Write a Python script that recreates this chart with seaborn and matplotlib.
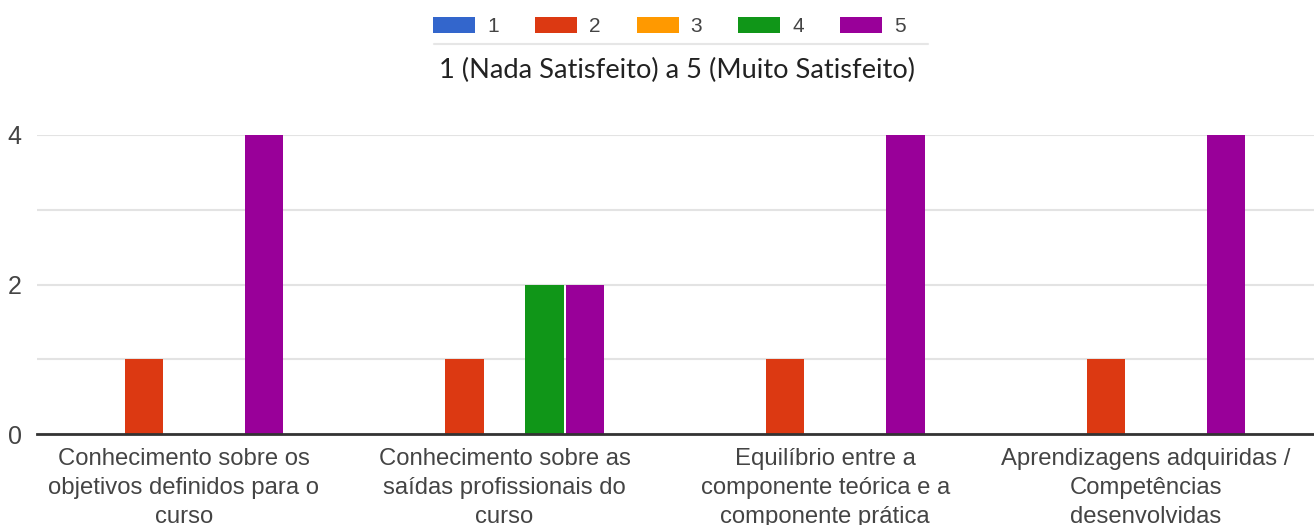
import pandas as pd
import seaborn as sns
import matplotlib.pyplot as plt
from matplotlib.lines import Line2D

# Data
categories = [
    "Conhecimento sobre os\nobjetivos definidos para o\ncurso",
    "Conhecimento sobre as\nsaídas profissionais do\ncurso",
    "Equilíbrio entre a\ncomponente teórica e a\ncomponente prática",
    "Aprendizagens adquiridas /\nCompetências\ndesenvolvidas",
]
ratings = ["1", "2", "3", "4", "5"]
r1 = [0, 0, 0, 0]
r2 = [1, 1, 1, 1]
r3 = [0, 0, 0, 0]
r4 = [0, 2, 0, 0]
r5 = [4, 2, 4, 4]
colors = ["#3366cc", "#dc3912", "#ff9900", "#109618", "#990099"]
subtitle = "1 (Nada Satisfeito) a 5 (Muito Satisfeito)"

# long format for seaborn
rows = []
for rating, vals in zip(ratings, [r1, r2, r3, r4, r5]):
    for cat, v in zip(categories, vals):
        rows.append({"categoria": cat, "nota": rating, "contagem": v})
df = pd.DataFrame(rows)

sns.set_style("white")
plt.rcParams['font.family'] = ['Liberation Sans', 'DejaVu Sans']

fig = plt.figure(figsize=(13.14, 5.25), dpi=100)
ax = fig.add_axes([37 / 1314, 1 - 434 / 525, 1 - 37 / 1314, (434 - 135) / 525])

sns.barplot(data=df, x="categoria", y="contagem", hue="nota", order=categories,
            hue_order=ratings, palette=colors, width=0.625, gap=0.04,
            saturation=1, edgecolor=None, linewidth=0, ax=ax)

# legend moved to the top of the figure
handles, labels = ax.get_legend_handles_labels()
ax.get_legend().remove()
fig.legend(handles, labels, loc='upper center', bbox_to_anchor=(0.5095, 1.003), ncol=5,
           frameon=False, fontsize=15, handlelength=2.02, handleheight=0.77,
           handletextpad=0.58, columnspacing=1.73, labelcolor='#444444')
fig.add_artist(Line2D([434 / 1314, 928 / 1314], [1 - 44 / 525, 1 - 44 / 525],
                      color='#e6e6e6', lw=1.5, transform=fig.transFigure))
fig.text(0.5156, 1 - 70 / 525, subtitle, ha='center', va='center',
         fontsize=19.6, color='#222222', family=['Lato', 'DejaVu Sans'])

# axes styling
ax.set_ylim(0, 4)
ax.set_xlim(-0.458, 3.524)
ax.set_yticks([0, 2, 4])
ax.set_yticks([1, 3], minor=True)
ax.grid(axis='y', which='both', color='#e3e3e3', lw=1.5)
ax.set_axisbelow(True)
for s in ['top', 'right', 'left']:
    ax.spines[s].set_visible(False)
ax.spines['bottom'].set_color('#333333')
ax.spines['bottom'].set_linewidth(2)
ax.spines['bottom'].set_zorder(5)
ax.set_xlabel('')
ax.set_ylabel('')
ax.tick_params(axis='both', which='both', length=0, colors='#444444')
ax.tick_params(axis='y', pad=11, labelsize=18)
ax.tick_params(axis='x', pad=10, labelsize=17.2)
for t in ax.get_xticklabels():
    t.set_linespacing(1.42)

fig.savefig('out.png', dpi=100)
